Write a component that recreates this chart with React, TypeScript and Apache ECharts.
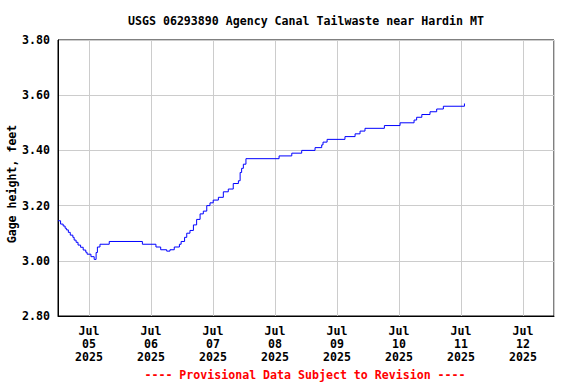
import React, { useEffect, useRef } from "react";
import * as echarts from "echarts";

const title = "USGS 06293890 Agency Canal Tailwaste near Hardin MT";
const yAxisName = "Gage height, feet";
const footer = "---- Provisional Data Subject to Revision ----";

const xMin = "2025-07-04 12:00";
const xMax = "2025-07-12 12:00";
const yMin = 2.8;
const yMax = 3.8;
const yStep = 0.2;

const times = [
  "2025-07-04 12:00", "2025-07-04 13:00", "2025-07-04 14:00", "2025-07-04 14:45",
  "2025-07-04 15:15", "2025-07-04 16:00", "2025-07-04 16:45", "2025-07-04 17:45",
  "2025-07-04 18:15", "2025-07-04 19:00", "2025-07-04 19:45", "2025-07-04 20:45",
  "2025-07-04 21:45", "2025-07-04 22:45", "2025-07-04 23:15", "2025-07-05 00:45",
  "2025-07-05 02:00", "2025-07-05 02:45", "2025-07-05 03:15", "2025-07-05 04:15",
  "2025-07-05 07:50", "2025-07-05 20:40", "2025-07-06 01:55", "2025-07-06 03:45",
  "2025-07-06 06:05", "2025-07-06 07:20", "2025-07-06 09:00", "2025-07-06 11:00",
  "2025-07-06 11:40", "2025-07-06 13:00", "2025-07-06 13:50", "2025-07-06 15:05",
  "2025-07-06 16:25", "2025-07-06 17:40", "2025-07-06 19:00", "2025-07-06 20:15",
  "2025-07-06 21:35", "2025-07-06 22:50", "2025-07-07 00:05", "2025-07-07 02:05",
  "2025-07-07 04:00", "2025-07-07 05:55", "2025-07-07 07:50", "2025-07-07 09:50",
  "2025-07-07 10:30", "2025-07-07 11:05", "2025-07-07 11:45", "2025-07-07 12:45",
  "2025-07-08 01:35", "2025-07-08 06:30", "2025-07-08 10:20", "2025-07-08 15:30",
  "2025-07-08 18:05", "2025-07-08 18:35", "2025-07-08 20:10", "2025-07-09 03:05",
  "2025-07-09 07:00", "2025-07-09 08:55", "2025-07-09 10:50", "2025-07-09 18:20",
  "2025-07-10 00:25", "2025-07-10 05:50", "2025-07-10 06:50", "2025-07-10 08:50",
  "2025-07-10 12:00", "2025-07-10 14:35", "2025-07-10 17:10", "2025-07-11 01:20",
  "2025-07-11 01:35",
];

const gageHeight = [
  3.145, 3.133, 3.126, 3.118,
  3.112, 3.103, 3.093, 3.085,
  3.075, 3.067, 3.057, 3.049,
  3.039, 3.031, 3.024, 3.015,
  3.005, 3.03, 3.05, 3.06,
  3.07, 3.06, 3.05, 3.04,
  3.035, 3.04, 3.05, 3.06,
  3.07, 3.085, 3.10, 3.11,
  3.13, 3.15, 3.17, 3.18,
  3.20, 3.21, 3.22, 3.23,
  3.25, 3.26, 3.28, 3.29,
  3.32, 3.335, 3.35, 3.37,
  3.38, 3.39, 3.40, 3.41,
  3.42, 3.43, 3.44, 3.45,
  3.46, 3.47, 3.48, 3.49,
  3.50, 3.51, 3.52, 3.53,
  3.54, 3.55, 3.56, 3.57,
  3.57,
];

const FONT = "'DejaVu Sans Mono', 'Liberation Mono', monospace";
const FS = 11.6;

export default function App() {
  const ref = useRef<HTMLDivElement>(null);
  useEffect(() => {
    if (!ref.current) return;
    const chart = echarts.init(ref.current, null, { renderer: "svg" });
    const data = times.map((t, i) => [t, gageHeight[i]]);
    chart.setOption({
      animation: false,
      backgroundColor: "#ffffff",
      grid: {
        left: 58,
        top: 40,
        right: 22,
        bottom: 68,
        show: true,
        borderColor: "#000",
        borderWidth: 1,
        backgroundColor: "transparent",
      },
      xAxis: {
        type: "time",
        min: xMin,
        max: xMax,
        minInterval: 24 * 3600 * 1000,
        maxInterval: 24 * 3600 * 1000,
        axisLine: { show: true, lineStyle: { color: "#000" } },
        axisTick: { show: false },
        splitLine: { show: true, lineStyle: { color: "#cccccc", width: 1 } },
        axisLabel: {
          margin: 8,
          fontFamily: FONT,
          fontSize: FS,
          fontWeight: "bold",
          color: "#000",
          lineHeight: 13,
          showMinLabel: false,
          formatter: (v: number) => {
            const d = new Date(v);
            const dd = String(d.getDate()).padStart(2, "0");
            return "Jul\n" + dd + "\n" + d.getFullYear();
          },
        },
      },
      yAxis: {
        type: "value",
        min: yMin,
        max: yMax,
        interval: yStep,
        axisLine: { show: true, lineStyle: { color: "#000" } },
        axisTick: { show: false },
        splitLine: { show: true, lineStyle: { color: "#cccccc", width: 1 } },
        axisLabel: {
          margin: 8,
          fontFamily: FONT,
          fontSize: FS,
          fontWeight: "bold",
          color: "#000",
          formatter: (v: number) => v.toFixed(2),
        },
      },
      graphic: [
        {
          type: "text",
          x: 306,
          y: 20.5,
          style: {
            text: title,
            fontFamily: FONT,
            fontSize: FS,
            fontWeight: "bold",
            fill: "#000",
            align: "center",
            verticalAlign: "middle",
          },
        },
        {
          type: "text",
          x: 12,
          y: 184,
          rotation: Math.PI / 2,
          style: {
            text: yAxisName,
            fontFamily: FONT,
            fontSize: FS,
            fontWeight: "bold",
            fill: "#000",
            align: "center",
            verticalAlign: "middle",
          },
        },
        {
          type: "text",
          x: 305,
          y: 375,
          style: {
            text: footer,
            fontFamily: FONT,
            fontSize: FS,
            fontWeight: "bold",
            fill: "#ff0000",
            align: "center",
            verticalAlign: "middle",
          },
        },
      ],
      series: [
        {
          type: "line",
          data,
          step: "end",
          showSymbol: false,
          symbol: "none",
          lineStyle: { color: "#0000ff", width: 1 },
          itemStyle: { color: "#0000ff" },
        },
      ],
    });
    return () => chart.dispose();
  }, []);
  return <div ref={ref} style={{ width: 576, height: 384, position: "absolute", left: 0, top: 0 }} />;
}
